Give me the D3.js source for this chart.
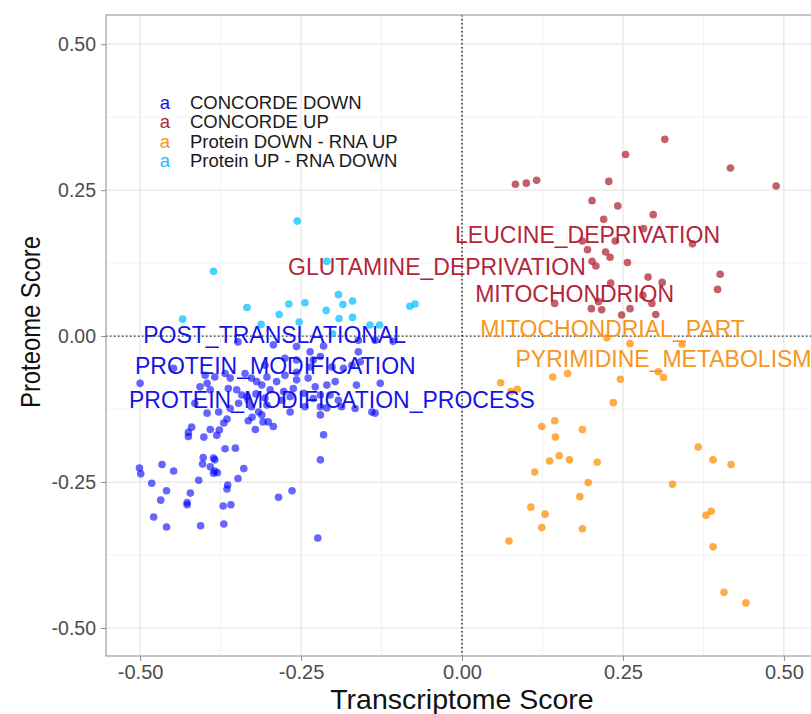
<!DOCTYPE html>
<html>
<head>
<meta charset="utf-8">
<script src="https://cdn.jsdelivr.net/npm/d3@7"></script>
<style>
  body { margin: 0; background: #fff; }
  svg { display: block; font-family: "Liberation Sans", Arial, Helvetica, sans-serif; }
</style>
</head>
<body>
<div id="chart"></div>
<script>
// points: [transcriptome, proteome]
let concordeDown = [
  [-0.348, -0.010], [-0.293, -0.015], [-0.257, -0.018], [-0.236, -0.027], [-0.215, -0.017],
  [-0.161, -0.027], [-0.135, -0.007], [-0.448, -0.055], [-0.500, -0.081], [-0.399, -0.067],
  [-0.384, -0.070], [-0.368, -0.064], [-0.360, -0.072], [-0.337, -0.064], [-0.327, -0.072],
  [-0.319, -0.078], [-0.311, -0.084], [-0.407, -0.087], [-0.396, -0.081], [-0.391, -0.092],
  [-0.363, -0.090], [-0.350, -0.092], [-0.342, -0.101], [-0.334, -0.104], [-0.415, -0.115],
  [-0.396, -0.132], [-0.378, -0.130], [-0.360, -0.124], [-0.347, -0.115], [-0.327, -0.121],
  [-0.316, -0.130], [-0.311, -0.135], [-0.332, -0.110], [-0.220, -0.035], [-0.231, -0.041],
  [-0.236, -0.053], [-0.202, -0.053], [-0.184, -0.055], [-0.171, -0.050], [-0.158, -0.044],
  [-0.306, -0.050], [-0.275, -0.038], [-0.257, -0.041], [-0.303, -0.070], [-0.288, -0.078],
  [-0.275, -0.067], [-0.257, -0.075], [-0.239, -0.072], [-0.210, -0.084], [-0.197, -0.078],
  [-0.164, -0.084], [-0.127, -0.081], [-0.298, -0.092], [-0.277, -0.095], [-0.262, -0.090],
  [-0.246, -0.098], [-0.231, -0.107], [-0.220, -0.101], [-0.205, -0.101], [-0.192, -0.110],
  [-0.220, -0.121], [-0.187, -0.121], [-0.166, -0.124], [-0.140, -0.130], [-0.135, -0.132],
  [-0.303, -0.118], [-0.280, -0.110], [-0.267, -0.130], [-0.220, -0.135], [-0.257, -0.062],
  [-0.228, -0.087], [-0.320, -0.099], [-0.306, -0.106], [-0.267, -0.104], [-0.244, -0.121],
  [-0.210, -0.123], [-0.365, -0.142], [-0.370, -0.149], [-0.332, -0.145], [-0.326, -0.139],
  [-0.309, -0.147], [-0.301, -0.147], [-0.293, -0.155], [-0.321, -0.160], [-0.420, -0.156],
  [-0.425, -0.165], [-0.425, -0.172], [-0.391, -0.160], [-0.377, -0.161], [-0.381, -0.170],
  [-0.401, -0.173], [-0.215, -0.169], [-0.368, -0.193], [-0.352, -0.192], [-0.220, -0.212],
  [-0.402, -0.208], [-0.386, -0.209], [-0.384, -0.212], [-0.403, -0.219], [-0.391, -0.224],
  [-0.384, -0.231], [-0.380, -0.234], [-0.386, -0.235], [-0.339, -0.227], [-0.466, -0.220],
  [-0.448, -0.231], [-0.501, -0.226], [-0.499, -0.236], [-0.482, -0.252], [-0.409, -0.247],
  [-0.348, -0.244], [-0.364, -0.255], [-0.365, -0.262], [-0.459, -0.265], [-0.422, -0.269],
  [-0.468, -0.281], [-0.427, -0.285], [-0.427, -0.289], [-0.371, -0.291], [-0.359, -0.289],
  [-0.285, -0.276], [-0.264, -0.265], [-0.479, -0.310], [-0.459, -0.327], [-0.406, -0.325],
  [-0.370, -0.322], [-0.224, -0.346], [-0.161, -0.007], [-0.107, -0.009]
]

let concordeUp = [
  [0.315, 0.337], [0.254, 0.311], [0.417, 0.288], [0.083, 0.260], [0.100, 0.262],
  [0.116, 0.267], [0.228, 0.265], [0.488, 0.257], [0.202, 0.232], [0.242, 0.223],
  [0.220, 0.200], [0.297, 0.208], [0.282, 0.184], [0.187, 0.163], [0.238, 0.163],
  [0.358, 0.158], [0.195, 0.148], [0.223, 0.144], [0.230, 0.135], [0.202, 0.128],
  [0.208, 0.120], [0.257, 0.126], [0.401, 0.106], [0.289, 0.101], [0.231, 0.091],
  [0.311, 0.092], [0.397, 0.080], [0.281, 0.070], [0.212, 0.059], [0.295, 0.056],
  [0.144, 0.056], [0.201, 0.047], [0.217, 0.045], [0.261, 0.047], [0.248, 0.036],
  [0.301, 0.037]
]

let proteinDownRnaUp = [
  [0.225, -0.003], [0.261, -0.013], [0.342, -0.014], [0.305, -0.061], [0.313, -0.071],
  [0.060, -0.080], [0.076, -0.095], [0.086, -0.091], [0.141, -0.070], [0.164, -0.064],
  [0.246, -0.074], [0.235, -0.114], [0.144, -0.145], [0.124, -0.155], [0.187, -0.160],
  [0.145, -0.173], [0.367, -0.190], [0.390, -0.212], [0.418, -0.220], [0.151, -0.205],
  [0.136, -0.214], [0.167, -0.212], [0.210, -0.216], [0.113, -0.233], [0.196, -0.251],
  [0.327, -0.254], [0.183, -0.275], [0.107, -0.293], [0.129, -0.305], [0.387, -0.300],
  [0.379, -0.307], [0.124, -0.328], [0.187, -0.330], [0.073, -0.351], [0.390, -0.361],
  [0.407, -0.439], [0.441, -0.457]
]

let proteinUpRnaDown = [
  [-0.256, 0.197], [-0.386, 0.111], [-0.210, 0.128], [-0.192, 0.071], [-0.170, 0.060],
  [-0.185, 0.054], [-0.244, 0.057], [-0.269, 0.055], [-0.334, 0.049], [-0.284, 0.037],
  [-0.211, 0.044], [-0.191, 0.030], [-0.170, 0.032], [-0.253, 0.024], [-0.312, 0.020],
  [-0.434, 0.029], [-0.128, 0.019], [-0.081, 0.051], [-0.073, 0.055], [-0.201, 0.004],
  [-0.143, 0.019]
]

// pathway labels: [name, x, y, group]
let pathwayLabels = [
  ["LEUCINE_DEPRIVATION", 0.195, 0.174, "up"],
  ["GLUTAMINE_DEPRIVATION", -0.039, 0.118, "up"],
  ["MITOCHONDRION", 0.175, 0.072, "up"],
  ["MITOCHONDRIAL_PART", 0.234, 0.013, "pdru"],
  ["PYRIMIDINE_METABOLISM", 0.313, -0.039, "pdru"],
  ["POST_TRANSLATIONAL", -0.291, 0.003, "down"],
  ["PROTEIN_MODIFICATION", -0.290, -0.051, "down"],
  ["PROTEIN_MODIFICATION_PROCESS", -0.202, -0.109, "down"]
]

let groupNames = ["CONCORDE DOWN", "CONCORDE UP", "Protein DOWN - RNA UP", "Protein UP - RNA DOWN"]
let groupKeys = ["down", "up", "pdru", "purd"]
let xTicks = [-0.5, -0.25, 0, 0.25, 0.5]
let yTicks = [-0.5, -0.25, 0, 0.25, 0.5]
let minorTicks = [-0.375, -0.125, 0.125, 0.375]

let pointColor = {down: "#0000ff", up: "#b0202f", pdru: "#ff8c00", purd: "#00bfff"}
let textColor = {down: "#1414e6", up: "#b3263a", pdru: "#f7961f", purd: "#2cc0f2"}

let margin = {top: 15, right: -7, bottom: 58, left: 106}
let width = 811 - margin.left - margin.right
let height = 714 - margin.top - margin.bottom

let fmt = function (d) { return d3.format(".2f")(d).replace("\u2212", "-") }

let svg = d3.select("#chart")
    .append("svg")
    .attr("width", 811)
    .attr("height", 714)

let g = svg.append("g")
    .attr("transform", "translate(" + margin.left + "," + margin.top + ")")

let x = d3.scaleLinear().domain([-0.553, 0.553]).range([0, width])
let y = d3.scaleLinear().domain([-0.548, 0.55]).range([height, 0])

// grid
minorTicks.forEach(function (t) {
    g.append("line").attr("x1", x(t)).attr("x2", x(t)).attr("y1", 0).attr("y2", height)
        .attr("stroke", "#efefef").attr("stroke-width", 0.8)
    g.append("line").attr("y1", y(t)).attr("y2", y(t)).attr("x1", 0).attr("x2", width)
        .attr("stroke", "#efefef").attr("stroke-width", 0.8)
})
xTicks.forEach(function (t) {
    g.append("line").attr("x1", x(t)).attr("x2", x(t)).attr("y1", 0).attr("y2", height)
        .attr("stroke", "#e6e6e6").attr("stroke-width", 1.2)
})
yTicks.forEach(function (t) {
    g.append("line").attr("y1", y(t)).attr("y2", y(t)).attr("x1", 0).attr("x2", width)
        .attr("stroke", "#e6e6e6").attr("stroke-width", 1.2)
})

// zero lines
g.append("line").attr("x1", x(0)).attr("x2", x(0)).attr("y1", 0).attr("y2", height)
    .attr("stroke", "#222").attr("stroke-width", 1.4).attr("stroke-dasharray", "1.4,2.6")
g.append("line").attr("y1", y(0)).attr("y2", y(0)).attr("x1", 0).attr("x2", width)
    .attr("stroke", "#222").attr("stroke-width", 1.4).attr("stroke-dasharray", "1.4,2.6")

// points
let groups = [
    {key: "purd", data: proteinUpRnaDown},
    {key: "down", data: concordeDown},
    {key: "up", data: concordeUp},
    {key: "pdru", data: proteinDownRnaUp}
]
groups.forEach(function (grp) {
    g.append("g").selectAll("circle")
        .data(grp.data)
        .enter()
        .append("circle")
        .attr("cx", function (d) { return x(d[0]) })
        .attr("cy", function (d) { return y(d[1]) })
        .attr("r", 3.8)
        .attr("fill", pointColor[grp.key])
        .attr("fill-opacity", grp.key === "down" ? 0.6 : 0.72)
})

// pathway labels
g.append("g").selectAll("text")
    .data(pathwayLabels)
    .enter()
    .append("text")
    .attr("x", function (d) { return x(d[1]) })
    .attr("y", function (d) { return y(d[2]) })
    .attr("dy", "0.36em")
    .attr("text-anchor", "middle")
    .attr("font-size", 23)
    .attr("fill", function (d) { return textColor[d[3]] })
    .text(function (d) { return d[0] })

// panel border
g.append("rect").attr("width", width).attr("height", height)
    .attr("fill", "none").attr("stroke", "#a6a6a6").attr("stroke-width", 1.3)

// axes
let xAxis = g.append("g")
    .attr("transform", "translate(0," + height + ")")
    .call(d3.axisBottom(x).tickValues(xTicks).tickFormat(fmt).tickSize(5).tickPadding(4))
let yAxis = g.append("g")
    .call(d3.axisLeft(y).tickValues(yTicks).tickFormat(fmt).tickSize(5).tickPadding(5))

xAxis.select(".domain").remove()
yAxis.select(".domain").remove()
xAxis.selectAll(".tick line").attr("stroke", "#8c8c8c")
yAxis.selectAll(".tick line").attr("stroke", "#8c8c8c")
xAxis.selectAll(".tick text")
    .attr("font-size", 20)
    .attr("fill", "#4d4d4d")
    .attr("font-family", "'Liberation Sans', Arial, sans-serif")
yAxis.selectAll(".tick text")
    .attr("font-size", 19.5)
    .attr("fill", "#4d4d4d")
    .attr("font-family", "'Liberation Sans', Arial, sans-serif")

// axis titles
svg.append("text")
    .attr("x", margin.left + x(0))
    .attr("y", 709)
    .attr("text-anchor", "middle")
    .attr("font-size", 28.5)
    .attr("fill", "#111")
    .text("Transcriptome Score")

svg.append("text")
    .attr("transform", "translate(40," + 322 + ") rotate(-90)")
    .attr("text-anchor", "middle")
    .attr("font-size", 28)
    .attr("fill", "#111")
    .attr("textLength", 172)
    .attr("lengthAdjust", "spacingAndGlyphs")
    .text("Proteome Score")

// legend
let legend = svg.append("g")
legend.selectAll(".key")
    .data(groupKeys)
    .enter()
    .append("text")
    .attr("x", 165)
    .attr("y", function (d, i) { return 109 + i * 19.3 })
    .attr("text-anchor", "middle")
    .attr("font-size", 18.5)
    .attr("fill", function (d) { return textColor[d] })
    .text("a")
legend.selectAll(".lab")
    .data(groupNames)
    .enter()
    .append("text")
    .attr("x", 190)
    .attr("y", function (d, i) { return 109 + i * 19.3 })
    .attr("font-size", 18.5)
    .attr("fill", "#1a1a1a")
    .text(function (d) { return d })
</script>
</body>
</html>
